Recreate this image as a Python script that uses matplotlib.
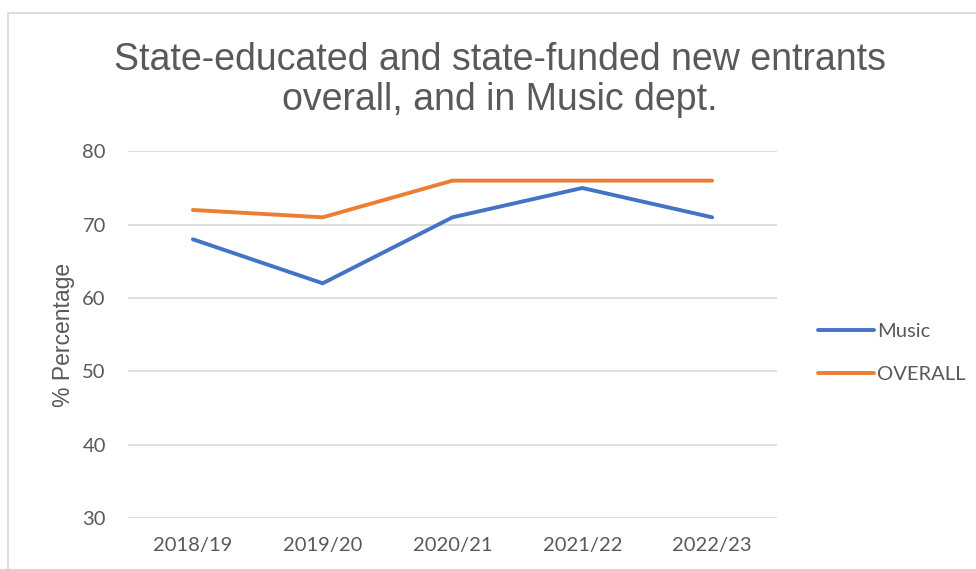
import matplotlib.pyplot as plt
from matplotlib.patches import Rectangle

years = ["2018/19", "2019/20", "2020/21", "2021/22", "2022/23"]
music = [68, 62, 71, 75, 71]
overall = [72, 71, 76, 76, 76]

grey = "#595959"
plt.rcParams["font.family"] = ["Lato", "DejaVu Sans"]

fig = plt.figure(figsize=(9.76, 5.69), dpi=100)

# light frame round the chart (runs off the right and bottom edges)
fig.patches.append(Rectangle((8 / 976, -0.1), 1.2, 1 - 13 / 569 + 0.1,
                             transform=fig.transFigure, fill=False,
                             edgecolor="#d9d9d9", linewidth=1.3))

ax = fig.add_axes([128 / 976, 1 - 518 / 569, 649 / 976, (518 - 151.3) / 569])
x = range(len(years))
ax.plot(x, music, color="#4472c4", linewidth=2.8, label="Music", solid_capstyle="round")
ax.plot(x, overall, color="#ed7d31", linewidth=2.8, label="OVERALL", solid_capstyle="round")

ax.set_xlim(-0.5, len(years) - 0.5)
ax.set_ylim(30, 80)
ax.set_yticks(range(30, 81, 10))
ax.set_xticks(list(x))
ax.set_xticklabels(years)
ax.grid(axis="y", color="#d9d9d9", linewidth=1.2)
ax.set_axisbelow(True)
for s in ax.spines.values():
    s.set_visible(False)
ax.tick_params(length=0, labelsize=14.5, colors=grey)
ax.tick_params(axis="y", pad=16)
ax.tick_params(axis="x", pad=14)
ax.set_ylabel("% Percentage", fontsize=16.5, color=grey, labelpad=5,
              family=["Liberation Sans"])

fig.text(500 / 976, 1 - 80 / 569, "State-educated and state-funded new entrants\noverall, and in Music dept.",
         ha="center", va="center", fontsize=27, color=grey, linespacing=1.15,
         family=["Liberation Sans"])

leg = ax.legend(loc="upper left", bbox_to_anchor=(1.05, 0.555), frameon=False,
                fontsize=14.5, handlelength=2.8, handletextpad=0.15, labelspacing=1.3,
                labelcolor=grey, borderaxespad=0)

fig.savefig("out.png", dpi=100)
